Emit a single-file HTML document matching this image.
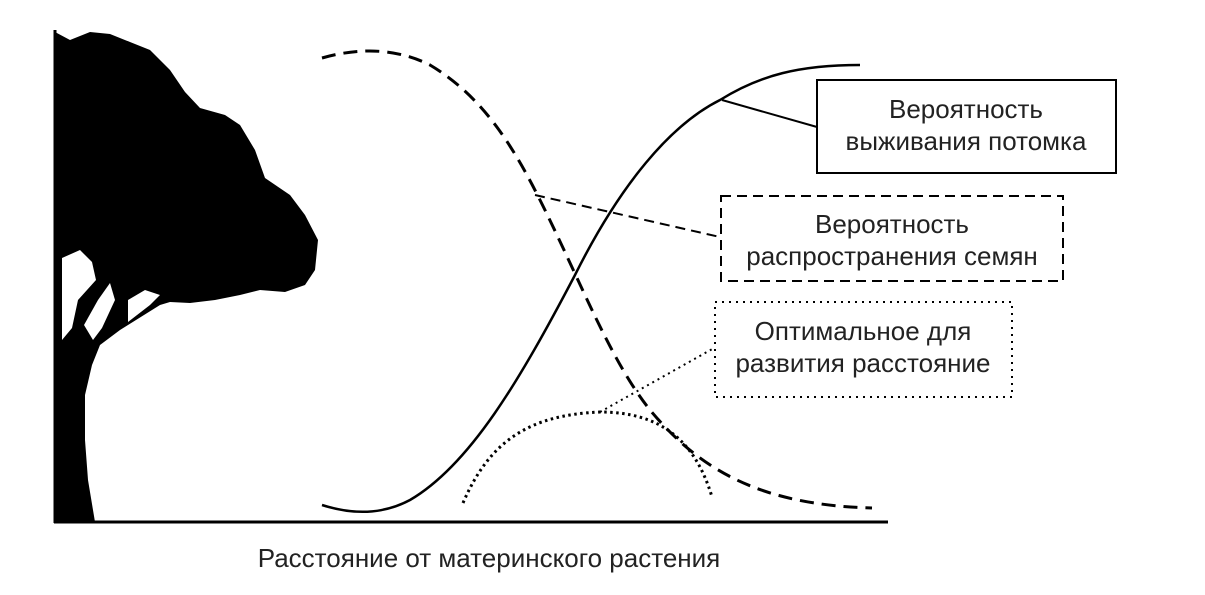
<!DOCTYPE html>
<html><head><meta charset="utf-8"><style>
body{margin:0;background:#fff;width:1205px;height:595px;overflow:hidden}
svg{display:block}
text{font-family:"Liberation Sans",sans-serif;font-size:26px;fill:#222}
</style></head><body>
<svg width="1205" height="595" viewBox="0 0 1205 595">
<!-- tree -->
<path d="M55,32 L70,40 L90,32 L110,34 L130,42 L150,50 L170,70 L185,92 L200,108 L225,115 L240,125 L255,150 L265,178 L290,195 L305,215 L318,240 L315,270 L305,285 L285,292 L260,290 L240,295 L215,300 L190,303 L170,302 L160,305 L120,330 L100,345 L92,365 L85,395 L85,440 L88,480 L95,522 L55,522 Z" fill="#000"/>
<path d="M62,258 L80,250 L92,262 L96,280 L78,300 L72,328 L62,340 Z" fill="#fff"/>
<path d="M84,325 L98,300 L110,283 L115,300 L102,328 L93,340 Z" fill="#fff"/>
<path d="M128,300 L145,290 L160,295 L150,305 L128,322 Z" fill="#fff"/>
<!-- axes -->
<line x1="55" y1="30" x2="55" y2="523" stroke="#000" stroke-width="3"/>
<line x1="54" y1="522" x2="888" y2="522" stroke="#000" stroke-width="3"/>
<!-- solid curve -->
<path d="M322,505 C350,514 380,516 410,500 C470,465 520,380 575,275 C620,185 670,125 720,100 C760,75 800,65 860,65" fill="none" stroke="#000" stroke-width="2.5"/>
<!-- dashed curve -->
<path d="M322,58 C350,50 390,45 430,65 C480,95 510,140 540,200 C580,280 610,360 650,410 C700,470 760,505 872,508" fill="none" stroke="#000" stroke-width="3" stroke-dasharray="14,8"/>
<!-- dotted curve -->
<path d="M463,503 C490,440 530,415 600,412 C660,412 695,440 712,497" fill="none" stroke="#000" stroke-width="3" stroke-dasharray="2.5,3.5"/>
<!-- connectors -->
<line x1="722" y1="100" x2="817" y2="127" stroke="#000" stroke-width="2"/>
<line x1="535" y1="195" x2="720" y2="237" stroke="#000" stroke-width="2" stroke-dasharray="10,6"/>
<line x1="600" y1="412" x2="714" y2="348" stroke="#000" stroke-width="2" stroke-dasharray="2,4"/>
<!-- boxes -->
<rect x="817" y="80" width="299" height="93" fill="#fff" stroke="#000" stroke-width="2"/>
<text x="966" y="118" text-anchor="middle">Вероятность</text>
<text x="966" y="150" text-anchor="middle">выживания потомка</text>
<rect x="721" y="196" width="342" height="85" fill="#fff" stroke="#000" stroke-width="2" stroke-dasharray="10,6"/>
<text x="892" y="233" text-anchor="middle">Вероятность</text>
<text x="892" y="265" text-anchor="middle">распространения семян</text>
<rect x="715" y="302" width="297" height="95" fill="#fff" stroke="#000" stroke-width="2" stroke-dasharray="2,5"/>
<text x="863" y="340" text-anchor="middle">Оптимальное для</text>
<text x="863" y="372" text-anchor="middle">развития расстояние</text>
<text x="489" y="567" text-anchor="middle">Расстояние от материнского растения</text>
</svg>
</body></html>
